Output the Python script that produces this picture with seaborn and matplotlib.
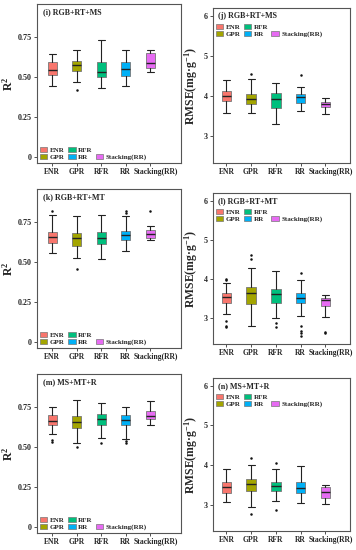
import matplotlib
matplotlib.use("Agg")
import matplotlib.pyplot as plt
import seaborn as sns
from matplotlib.patches import Patch

models = ['ENR', 'GPR', 'RFR', 'RR', 'Stacking(RR)']
colors = ['#F8766D', '#A3A500', '#00BF7D', '#00B0F6', '#E76BF3']

# (i) RGB+RT+MS, R2
i_lo = [0.444, 0.469, 0.431, 0.444, 0.530]
i_q1 = [0.513, 0.538, 0.501, 0.509, 0.555]
i_med = [0.542, 0.574, 0.532, 0.549, 0.586]
i_q3 = [0.593, 0.603, 0.597, 0.597, 0.649]
i_hi = [0.647, 0.668, 0.731, 0.671, 0.671]
i_out = [[], [0.421], [], [], []]

# (j) RGB+RT+MS, RMSE
j_lo = [3.58, 3.57, 3.31, 3.62, 3.56]
j_q1 = [3.88, 3.80, 3.71, 3.82, 3.73]
j_med = [4.01, 3.93, 3.92, 3.97, 3.80]
j_q3 = [4.13, 4.06, 4.08, 4.06, 3.86]
j_hi = [4.41, 4.42, 4.33, 4.22, 3.96]
j_out = [[], [4.54], [], [4.52], []]

# (k) RGB+RT+MT, R2
k_lo = [0.556, 0.527, 0.521, 0.569, 0.636]
k_q1 = [0.621, 0.603, 0.615, 0.636, 0.650]
k_med = [0.659, 0.650, 0.650, 0.671, 0.673]
k_q3 = [0.690, 0.684, 0.688, 0.696, 0.698]
k_hi = [0.792, 0.790, 0.792, 0.786, 0.727]
k_out = [[0.817], [0.454], [], [0.806, 0.823], [0.821]]

# (l) RGB+RT+MT, RMSE
l_lo = [3.09, 2.79, 2.99, 3.06, 3.02]
l_q1 = [3.39, 3.35, 3.39, 3.38, 3.31]
l_med = [3.54, 3.63, 3.61, 3.51, 3.45]
l_q3 = [3.63, 3.78, 3.73, 3.64, 3.52]
l_hi = [3.89, 4.29, 4.19, 3.97, 3.59]
l_out = [[2.76, 2.80, 2.93, 3.96, 3.99], [4.50, 4.60], [2.76, 2.86],
         [2.54, 2.60, 2.66, 2.80, 4.15], [2.60, 2.64]]

# (m) MS+MT+R, R2
m_lo = [0.581, 0.527, 0.556, 0.550, 0.638]
m_q1 = [0.638, 0.621, 0.640, 0.640, 0.675]
m_med = [0.661, 0.654, 0.675, 0.669, 0.692]
m_q3 = [0.698, 0.692, 0.708, 0.702, 0.725]
m_hi = [0.750, 0.792, 0.779, 0.750, 0.786]
m_out = [[0.529, 0.544], [0.502], [0.525], [0.525, 0.537], []]

# (n) MS+MT+R, RMSE
n_lo = [3.07, 2.94, 3.10, 3.05, 3.01]
n_q1 = [3.29, 3.33, 3.34, 3.28, 3.17]
n_med = [3.44, 3.52, 3.47, 3.43, 3.31]
n_q3 = [3.58, 3.64, 3.57, 3.58, 3.44]
n_hi = [3.89, 4.00, 3.89, 3.98, 3.50]
n_out = [[], [2.76, 4.18], [2.85, 4.04], [], []]

r2_ticks = [0, 0.25, 0.5, 0.75]
r2_labels = ['0', '0.25', '0.50', '0.75']
rmse_ticks = [3, 4, 5, 6]

sns.set_theme(style='ticks')
plt.rcParams['font.family'] = ['Liberation Serif', 'DejaVu Serif']
plt.rcParams['font.weight'] = 'bold'
plt.rcParams['mathtext.fontset'] = 'custom'
plt.rcParams['mathtext.rm'] = 'Liberation Serif:bold'
plt.rcParams['mathtext.it'] = 'Liberation Serif:bold'
plt.rcParams['mathtext.bf'] = 'Liberation Serif:bold'
plt.rcParams['mathtext.default'] = 'rm'

palette = sns.color_palette(colors)

panels = [
    ('(i) RGB+RT+MS', 'r2', i_lo, i_q1, i_med, i_q3, i_hi, i_out),
    ('(j) RGB+RT+MS', 'rmse', j_lo, j_q1, j_med, j_q3, j_hi, j_out),
    ('(k) RGB+RT+MT', 'r2', k_lo, k_q1, k_med, k_q3, k_hi, k_out),
    ('(l) RGB+RT+MT', 'rmse', l_lo, l_q1, l_med, l_q3, l_hi, l_out),
    ('(m) MS+MT+R', 'r2', m_lo, m_q1, m_med, m_q3, m_hi, m_out),
    ('(n) MS+MT+R', 'rmse', n_lo, n_q1, n_med, n_q3, n_hi, n_out),
]

# axes rectangles in figure fraction (left, bottom, width, height), top row first
rects = [
    (0.104, 1 - 163 / 550, 0.404, 159 / 550),
    (0.598, 1 - 163 / 550, 0.385, 155 / 550),
    (0.104, 1 - 348 / 550, 0.404, 159 / 550),
    (0.598, 1 - 344 / 550, 0.385, 151 / 550),
    (0.104, 1 - 533 / 550, 0.404, 159 / 550),
    (0.598, 1 - 531 / 550, 0.385, 153 / 550),
]

fig = plt.figure(figsize=(3.56, 5.5), dpi=100)
pos = list(range(len(models)))

for (title, metric, lo, q1, med, q3, hi, out), rect in zip(panels, rects):
    ax = fig.add_axes(rect)
    stats = [dict(whislo=lo[k], q1=q1[k], med=med[k], q3=q3[k], whishi=hi[k],
                  fliers=out[k]) for k in range(len(models))]
    bp = ax.bxp(stats, positions=pos, widths=0.38,
                capwidths=0.28, patch_artist=True, showfliers=True,
                boxprops=dict(edgecolor='#777777', linewidth=0.6),
                medianprops=dict(color='#222222', linewidth=1.0),
                whiskerprops=dict(color='#222222', linewidth=0.8),
                capprops=dict(color='#222222', linewidth=0.8),
                flierprops=dict(marker='o', markersize=1.8,
                                markerfacecolor='#111111',
                                markeredgecolor='none'))
    for patch, c in zip(bp['boxes'], palette):
        patch.set_facecolor(c)

    # last label is nudged right (as in the original) so it clears "RR"
    ax.set_xticks(pos)
    ax.set_xticklabels(models[:-1] + [''], fontsize=5.5, fontweight='bold')
    ax.set_xticks([pos[-1] + 0.21], minor=True)
    ax.set_xticklabels([models[-1]], minor=True, fontsize=5.5,
                       fontweight='bold')
    ax.tick_params(axis='x', which='minor', length=0, pad=3.5)

    if metric == 'r2':
        ax.set_xlim(-0.62, 5.25)
        ax.set_ylim(-0.04, 0.958)
        ax.set_yticks(r2_ticks)
        ax.set_yticklabels(r2_labels, fontsize=5.8, fontweight='bold')
        ax.set_ylabel('R$^{2}$', fontsize=8.5, fontweight='bold', labelpad=2)
        leg_kw = dict(loc='lower left', bbox_to_anchor=(0.0, 0.0))
    else:
        ax.set_xlim(-0.55, 5.0)
        ax.set_ylim(2.33, 6.2)
        ax.set_yticks(rmse_ticks)
        ax.set_yticklabels([str(t) for t in rmse_ticks], fontsize=5.8,
                           fontweight='bold')
        ax.set_ylabel('RMSE(mg·g$^{-1}$)', fontsize=8.5, fontweight='bold',
                      labelpad=3)
        leg_kw = dict(loc='upper left', bbox_to_anchor=(0.0, 0.915))

    ax.text(0.04, 0.975, title, transform=ax.transAxes, ha='left', va='top',
            fontsize=5.8, fontweight='bold')

    handles = [Patch(facecolor=c, edgecolor='#777777', linewidth=0.5)
               for c in palette]
    labels = list(models)
    handles.insert(4, Patch(alpha=0))
    labels.insert(4, '')
    ax.legend(handles, labels, ncol=3, frameon=False, fontsize=5,
              handlelength=1.1, handleheight=0.8, handletextpad=0.3,
              columnspacing=0.5, labelspacing=0.15, borderaxespad=0.2,
              borderpad=0.2, **leg_kw)

    for sp in ax.spines.values():
        sp.set_visible(True)
        sp.set_color('#555555')
        sp.set_linewidth(0.8)
    ax.tick_params(axis='both', which='major', length=2, width=0.6, pad=1.5,
                   color='#333333')
    ax.set_facecolor('white')

fig.savefig('out.png', dpi=100, facecolor='white')
